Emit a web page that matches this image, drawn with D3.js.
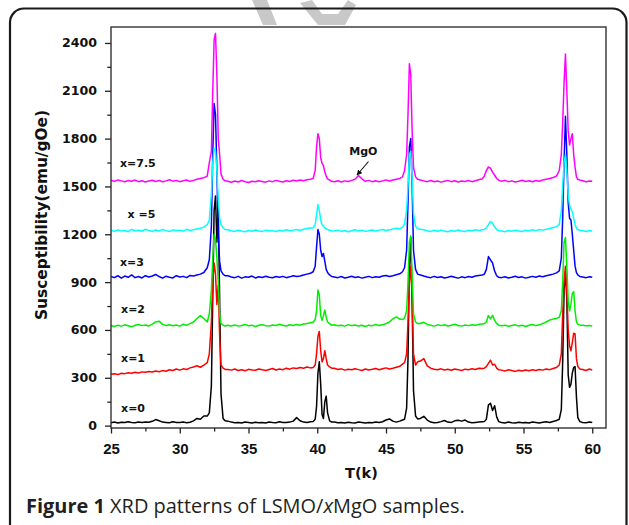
<!DOCTYPE html>
<html><head><meta charset="utf-8">
<script src="https://cdn.jsdelivr.net/npm/d3@7"></script>
<style>html,body{margin:0;padding:0;background:#fff;} svg{display:block;}</style>
</head><body>
<svg id="chart" width="629" height="525"></svg>
<script>
// ---- data (2θ grid in segments; intensities per sample in matching segments) ----
const tGrid = [
  [25,25.25,25.5,25.75,26,26.25,26.5,26.75,27,27.25,27.5,27.75,28,28.25,28.5,28.75,29,29.25,29.5,29.75,30,30.25,30.5,30.75,31,31.25,31.5,31.75],
  [32,32.15,32.3,32.4,32.5,32.6,32.7,32.8,32.9,33,33.15,33.3],
  [33.5,33.75,34,34.25,34.5,34.75,35,35.25,35.5,35.75,36,36.25,36.5,36.75,37,37.25,37.5,37.75,38,38.25,38.5,38.75,39,39.25,39.5],
  [39.7,39.85,39.95,40.05,40.15,40.25,40.35,40.45,40.55,40.65,40.75,40.9,41.05],
  [41.25,41.5,41.75,42,42.25,42.5,42.75,43,43.25,43.5,43.75,44,44.25,44.5,44.75,45,45.25,45.5,45.75,46],
  [46.2,46.35,46.5,46.6,46.7,46.8,46.9,47,47.15,47.3],
  [47.5,47.75,48,48.25,48.5,48.75,49,49.25,49.5,49.75,50,50.25,50.5,50.75,51,51.25,51.5,51.75,52],
  [52.15,52.3,52.45,52.6,52.75,52.9,53.05,53.2],
  [53.4,53.65,53.9,54.15,54.4,54.65,54.9,55.15,55.4,55.65,55.9,56.15,56.4,56.65,56.9,57.15,57.4],
  [57.6,57.75,57.85,57.95,58.05,58.15,58.25,58.35,58.45,58.55,58.65,58.75,58.85,58.95,59.1],
  [59.3,59.55,59.8,60]
];
const sampleX0 = [
  [18,22,17,21,19,24,20,18,22,19,23,21,27,38,30,22,20,18,24,20,19,22,18,21,30,45,40,60],
  [60,80,250,800,1350,1440,1150,1365,800,200,45,30],
  [28,22,18,20,17,22,19,16,21,18,20,17,22,19,18,24,20,19,22,28,50,30,22,20,24],
  [25,40,120,330,400,260,70,45,150,185,80,30,22],
  [22,18,20,16,21,18,17,22,19,16,20,18,23,19,24,35,42,28,22,28],
  [35,40,110,420,1000,1180,780,220,60,42],
  [45,58,35,22,18,20,25,32,22,20,30,33,28,35,22,18,20,22,24],
  [25,40,130,140,95,125,55,25],
  [20,17,22,18,16,21,18,20,17,22,19,16,21,24,20,26,32],
  [40,100,400,850,960,800,320,240,260,330,365,370,180,50,25],
  [20,18,22,19]
];
const sampleX1 = [
  [322,325,320,328,326,331,329,334,330,337,335,340,336,342,338,345,341,350,346,355,348,356,352,362,368,375,366,380],
  [395,450,650,900,1020,950,760,880,560,380,360,352],
  [352,348,355,346,350,344,353,349,347,355,350,346,352,358,349,355,351,360,354,362,358,365,360,368,362],
  [365,380,450,560,590,470,400,420,470,420,380,368,360],
  [360,352,356,348,354,350,357,351,346,355,349,353,358,350,356,362,355,360,366,372],
  [385,395,450,650,900,1000,800,450,380,400],
  [405,420,375,360,354,350,356,349,353,347,355,351,346,354,350,356,352,360,358],
  [360,370,390,410,380,385,360,350],
  [348,342,350,345,340,347,343,349,344,350,346,352,348,355,351,358,365],
  [380,450,700,900,1000,850,600,500,470,520,580,575,420,370,355],
  [352,346,355,348]
];
const sampleX2 = [
  [628,622,630,624,632,626,620,629,634,627,631,625,636,650,655,635,628,633,626,631,624,636,629,640,650,672,690,672],
  [650,700,850,1050,1200,1170,1050,900,700,640,630,625],
  [630,625,632,624,628,635,626,630,622,629,633,627,624,631,628,636,630,625,633,628,634,630,637,640,645],
  [648,665,720,850,820,690,660,690,725,680,650,640,630],
  [632,626,630,624,633,627,631,625,629,622,630,627,634,628,632,640,650,670,682,668],
  [665,675,720,900,1150,1190,950,700,650,640],
  [640,648,635,630,624,632,627,633,625,630,636,628,624,631,627,633,629,635,638],
  [640,650,690,670,692,660,640,630],
  [626,630,623,628,632,625,630,622,629,634,627,632,640,650,662,668,672],
  [680,720,900,1150,1180,1000,780,720,760,830,840,720,650,635,630],
  [630,626,628,624]
];
const sampleX3 = [
  [935,928,940,925,938,930,945,928,935,926,940,932,938,948,935,925,937,930,926,940,932,936,928,942,938,945,950,960],
  [990,1040,1250,1700,2020,1950,1600,1200,1030,970,950,940],
  [940,932,928,936,925,933,930,938,926,934,929,937,931,927,935,930,936,928,933,940,935,938,945,950,955],
  [965,1000,1120,1230,1200,1100,1060,1080,1030,980,960,945,935],
  [932,928,935,926,930,937,929,933,925,931,936,928,934,930,938,942,935,940,946,952],
  [965,990,1100,1400,1750,1800,1500,1100,980,950],
  [945,938,932,928,936,929,934,926,931,937,930,925,933,928,935,930,938,942,945],
  [950,980,1060,1040,1020,970,940,930],
  [928,934,926,931,937,929,933,925,930,936,931,938,934,940,945,950,958],
  [970,1050,1300,1650,1940,1700,1400,1300,1290,1200,1100,1000,960,945,935],
  [932,928,934,930]
];
const sampleX5 = [
  [1225,1218,1228,1220,1224,1216,1230,1222,1226,1219,1232,1224,1218,1227,1221,1230,1223,1217,1228,1222,1226,1220,1231,1224,1228,1233,1238,1245],
  [1260,1290,1450,1650,1740,1720,1600,1420,1300,1260,1240,1230],
  [1228,1222,1218,1225,1220,1216,1224,1219,1227,1221,1218,1226,1220,1223,1217,1225,1221,1228,1222,1226,1230,1224,1232,1236,1240],
  [1240,1262,1320,1385,1350,1290,1260,1250,1240,1235,1230,1225,1222],
  [1220,1226,1218,1224,1216,1222,1228,1220,1225,1218,1223,1227,1221,1226,1230,1224,1229,1233,1238,1235],
  [1245,1265,1350,1500,1700,1720,1550,1330,1250,1235],
  [1232,1228,1222,1218,1225,1219,1226,1220,1216,1224,1219,1227,1221,1217,1225,1222,1228,1224,1228],
  [1230,1240,1260,1280,1270,1245,1230,1222],
  [1220,1216,1224,1219,1226,1220,1217,1225,1221,1228,1223,1230,1226,1232,1236,1242,1248],
  [1260,1350,1500,1650,1700,1600,1450,1380,1360,1340,1300,1260,1240,1230,1225],
  [1222,1218,1224,1220]
];
const sampleX75 = [
  [1538,1532,1541,1535,1529,1537,1533,1540,1530,1536,1528,1534,1539,1531,1537,1529,1535,1542,1533,1538,1530,1536,1540,1532,1538,1545,1550,1555],
  [1565,1650,1720,2100,2420,2460,2200,1800,1700,1580,1545,1535],
  [1532,1526,1534,1528,1537,1530,1525,1533,1529,1536,1531,1527,1535,1530,1538,1532,1528,1536,1531,1539,1534,1540,1536,1542,1545],
  [1550,1600,1750,1830,1800,1680,1645,1630,1590,1565,1548,1540,1532],
  [1530,1536,1528,1535,1531,1538,1545,1568,1548,1532,1538,1530,1536,1529,1535,1541,1534,1540,1545,1550],
  [1560,1600,1700,1950,2270,2200,1850,1620,1560,1545],
  [1540,1535,1530,1537,1529,1534,1527,1533,1538,1530,1536,1528,1534,1531,1537,1530,1536,1542,1548],
  [1565,1600,1622,1615,1590,1570,1550,1540],
  [1532,1538,1530,1535,1528,1533,1539,1531,1536,1529,1537,1533,1540,1545,1550,1556,1565],
  [1600,1700,1900,2150,2330,2100,1850,1760,1800,1830,1700,1620,1560,1545,1540],
  [1536,1530,1534,1532]
];
const seriesLabels = ["x=0","x=1","x=2","x=3","x =5","x=7.5"];
const seriesColors = ["#000000","#ff0000","#00ee00","#0000ff","#00ffff","#ff00ff"];
const labelAnchors = [[25.73,87],[25.73,401],[25.73,708],[25.65,1001],[26.2,1304],[25.65,1624]];
const xMajor = [25,30,35,40,45,50,55,60];
const xMinor = [27.5,32.5,37.5,42.5,47.5,52.5,57.5];
const yMajor = [0,300,600,900,1200,1500,1800,2100,2400];
const yMinor = [150,450,750,1050,1350,1650,1950,2250];

// ---- build ----
const svg = d3.select("#chart");
const allSeries = [sampleX0, sampleX1, sampleX2, sampleX3, sampleX5, sampleX75];
function pairs(segs){
  const out=[];
  tGrid.forEach((g,i)=>{const s=segs[i]; const n=Math.min(g.length,s.length); for(let k=0;k<n;k++) out.push([g[k],s[k]]);});
  return out;
}
const x = d3.scaleLinear().domain([25,61]).range([111,606]);
const y = d3.scaleLinear().domain([-15,2500]).range([428,27]);

// watermark
const wm = svg.append("g").attr("fill","#c8c8c8");
wm.append("polygon").attr("points","252,0 267,0 277,25 263,25");
wm.append("polygon").attr("points","300,3 318,25 345,25 356,5 348,0 338,14 322,14 312,0");

// card border
svg.append("rect").attr("x",10).attr("y",8.5).attr("width",616.5).attr("height",560)
  .attr("rx",14).attr("fill","none").attr("stroke","#1a1a1a").attr("stroke-width",2.2);

// lines
const line = d3.line().x(d=>x(d[0])).y(d=>y(d[1]));
allSeries.forEach((s,i)=>{
  svg.append("path").datum(pairs(s)).attr("d",line).attr("fill","none")
    .attr("stroke",seriesColors[i]).attr("stroke-width",1.5).attr("stroke-linejoin","round");
});

// frame
svg.append("rect").attr("x",x.range()[0]).attr("y",y.range()[1])
  .attr("width",x.range()[1]-x.range()[0]).attr("height",y.range()[0]-y.range()[1])
  .attr("fill","none").attr("stroke","#333").attr("stroke-width",1.4);

// axes
const gx = svg.append("g").attr("transform",`translate(0,${y.range()[0]})`)
  .call(d3.axisBottom(x).tickValues(xMajor).tickSize(5.5).tickPadding(9.5).tickFormat(d3.format("d")));
svg.append("g").attr("transform",`translate(0,${y.range()[0]})`)
  .call(d3.axisBottom(x).tickValues(xMinor).tickSize(3.5).tickFormat(""));
const gy = svg.append("g").attr("transform",`translate(${x.range()[0]},0)`)
  .call(d3.axisLeft(y).tickValues(yMajor).tickSize(6).tickPadding(8).tickFormat(d3.format("d")));
svg.append("g").attr("transform",`translate(${x.range()[0]},0)`)
  .call(d3.axisLeft(y).tickValues(yMinor).tickSize(3.7).tickFormat(""));
svg.selectAll(".domain").remove();
svg.selectAll(".tick line").attr("stroke","#222").attr("stroke-width",1.3);
gx.selectAll("text").attr("font-family","'Liberation Sans', Arial, sans-serif").attr("font-weight","bold")
  .attr("font-size",15).attr("fill","#111");
gy.selectAll("text").attr("font-family","'DejaVu Sans', sans-serif").attr("font-weight","bold")
  .attr("font-size",12.6).attr("fill","#111");

// series labels
seriesLabels.forEach((t,i)=>{
  svg.append("text").attr("x",x(labelAnchors[i][0])).attr("y",y(labelAnchors[i][1]))
    .attr("font-family","'DejaVu Sans', sans-serif").attr("font-weight","bold").attr("font-size",11)
    .attr("fill","#111").text(t);
});
// MgO annotation
svg.append("text").attr("x",x(42.33)).attr("y",y(1697))
  .attr("font-family","'DejaVu Sans', sans-serif").attr("font-weight","bold").attr("font-size",11)
  .attr("fill","#111").text("MgO");
svg.append("defs").append("marker").attr("id","ah").attr("viewBox","0 0 10 10").attr("refX",9).attr("refY",5)
  .attr("markerWidth",5).attr("markerHeight",5).attr("orient","auto")
  .append("path").attr("d","M0,0 L10,5 L0,10 z").attr("fill","#111");
svg.append("line").attr("x1",368.5).attr("y1",161.5).attr("x2",357).attr("y2",175)
  .attr("stroke","#111").attr("stroke-width",1.1).attr("marker-end","url(#ah)");

function fit(sel, target){
  const w = sel.node().getComputedTextLength();
  const fs = parseFloat(sel.attr("font-size"));
  sel.attr("font-size", fs*target/w);
}
// axis titles
const yt = svg.append("text").attr("transform","translate(47,215) rotate(-90)").attr("text-anchor","middle")
  .attr("font-family","'DejaVu Sans', sans-serif").attr("font-weight","bold").attr("font-size",15.4)
  .attr("fill","#111").text("Susceptibility(emu/gOe)");
fit(yt,210);
svg.append("text").attr("x",361.5).attr("y",478).attr("text-anchor","middle")
  .attr("font-family","'DejaVu Sans', sans-serif").attr("font-weight","bold").attr("font-size",14.5)
  .attr("fill","#111").text("T(k)");

// caption
const cap = svg.append("text").attr("x",26).attr("y",513)
  .attr("font-family","'Open Sans', sans-serif").attr("font-size",18).attr("fill","#231f20");
cap.append("tspan").attr("font-weight","bold").text("Figure 1");
cap.append("tspan").text(" XRD patterns of LSMO/");
cap.append("tspan").attr("font-style","italic").text("x");
cap.append("tspan").text("MgO samples.");
fit(cap,439);
</script>
</body></html>
